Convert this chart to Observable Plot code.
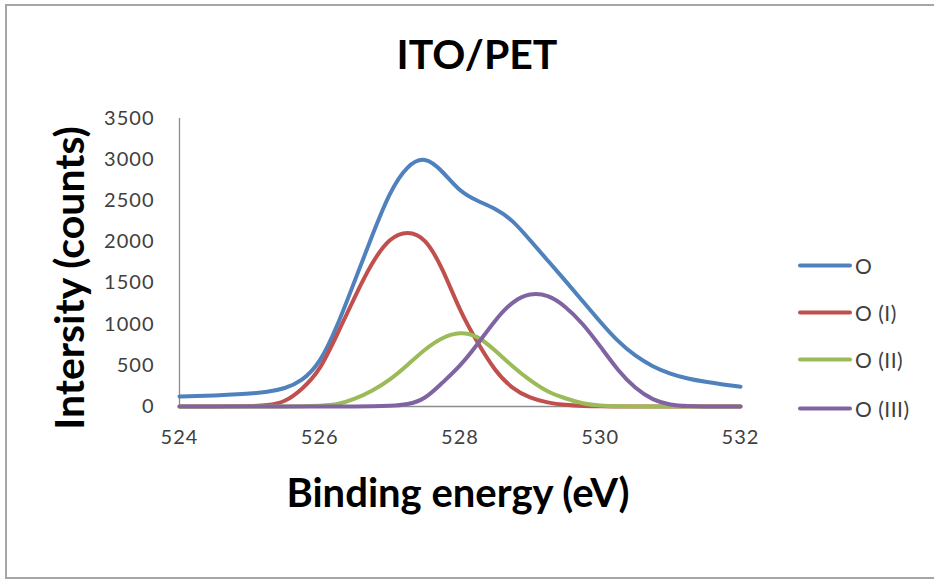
<!DOCTYPE html>
<html>
<head>
<meta charset="utf-8">
<script src="https://cdn.jsdelivr.net/npm/d3@7"></script>
<script src="https://cdn.jsdelivr.net/npm/@observablehq/plot@0.6"></script>
<style>
  html, body { margin: 0; padding: 0; background: #fff; }
  #wrap { position: relative; width: 934px; height: 583px; overflow: hidden; font-family: Lato, "Open Sans", sans-serif; }
  #frame { position: absolute; left: 5px; top: 4px; width: 940px; height: 575px; border: 2px solid #a6a6a6; box-sizing: border-box; }
  #chart { position: absolute; left: 0; top: 0; }
  #chart svg text { letter-spacing: 1px; }
  .title { position: absolute; left: 0; width: 954px; top: 29px; text-align: center; font-weight: bold; font-size: 41px; color: #000; }
  .ylab { position: absolute; left: 68px; top: 278px; transform: translate(-50%, -50%) rotate(-90deg); white-space: nowrap; font-weight: bold; font-size: 41px; color: #000; }
  .xlab { position: absolute; left: 458px; top: 492px; transform: translate(-50%, -50%); white-space: nowrap; font-weight: bold; font-size: 40px; color: #000; }
  #legend { position: absolute; left: 798px; top: 0; }
  .item { position: absolute; left: 0; display: flex; align-items: center; white-space: nowrap; font-size: 21px; letter-spacing: 0.5px; color: #404040; transform: translateY(-50%); }
  .swatch { width: 54px; height: 4px; border-radius: 2px; margin-right: 3px; }
</style>
</head>
<body>
<div id="wrap">
  <div id="frame"></div>
  <div id="chart"></div>
  <div class="title">ITO/PET</div>
  <div class="ylab">Intersity (counts)</div>
  <div class="xlab">Binding energy (eV)</div>
  <div id="legend"></div>
</div>
<script>
// Binding energy grid (eV)
const energy = [524, 524.25, 524.5, 524.75, 525, 525.25, 525.5, 525.75, 526, 526.25, 526.5, 526.75,
  527, 527.25, 527.5, 527.75, 528, 528.25, 528.5, 528.75, 529, 529.25, 529.5, 529.75,
  530, 530.25, 530.5, 530.75, 531, 531.25, 531.5, 531.75, 532];

// Series values (counts)
const seriesO = [122, 128, 135, 145, 158, 180, 225, 330, 560, 990, 1530, 2080,
  2580, 2900, 2995, 2850, 2630, 2500, 2400, 2250, 2020, 1775, 1530, 1280,
  1030, 800, 620, 490, 400, 340, 300, 268, 240];
const seriesOI = [0, 0, 0, 2, 5, 18, 70, 220, 470, 880, 1330, 1740,
  2020, 2110, 2010, 1660, 1180, 780, 450, 230, 110, 50, 20, 7,
  2, 0, 0, 0, 0, 0, 0, 0, 0];
const seriesOII = [0, 0, 0, 0, 0, 0, 0, 3, 10, 30, 95, 195,
  330, 505, 690, 830, 890, 840, 680, 490, 320, 185, 100, 40,
  12, 3, 0, 0, 0, 0, 0, 0, 0];
const seriesOIII = [0, 0, 0, 0, 0, 0, 0, 0, 0, 0, 0, 2,
  8, 30, 110, 290, 500, 760, 1040, 1260, 1360, 1340, 1210, 1000,
  730, 450, 230, 90, 25, 5, 0, 0, 0];

const seriesNames = ["O", "O (I)", "O (II)", "O (III)"];
const seriesColors = ["#4f81bd", "#c0504d", "#9bbb59", "#8064a2"];
const xTicks = [524, 526, 528, 530, 532];
const yTicks = [0, 500, 1000, 1500, 2000, 2500, 3000, 3500];

const allSeries = [seriesO, seriesOI, seriesOII, seriesOIII];
const rows = [];
allSeries.forEach((vals, i) => {
  vals.forEach((v, j) => rows.push({ x: energy[j], y: v, s: seriesNames[i] }));
});

const chart = Plot.plot({
  width: 934,
  height: 583,
  marginLeft: 179,
  marginRight: 194,
  marginTop: 118,
  marginBottom: 177,
  style: { fontFamily: "Lato, 'Open Sans', sans-serif", background: "transparent" },
  x: { domain: [524, 532] },
  y: { domain: [0, 3500] },
  color: { domain: seriesNames, range: seriesColors },
  marks: [
    Plot.ruleY([0], { stroke: "#8c8c8c", strokeWidth: 1.3 }),
    Plot.ruleX([524], { stroke: "#8c8c8c", strokeWidth: 1.3 }),
    Plot.axisY({ ticks: yTicks, tickSize: 0, tickPadding: 25, fontSize: 20, label: null, color: "#404040", tickFormat: d => String(d) }),
    Plot.axisX({ ticks: xTicks, tickSize: 0, tickPadding: 23, fontSize: 20, label: null, color: "#404040", tickFormat: d => String(d) }),
    Plot.line(rows, { x: "x", y: "y", z: "s", stroke: "s", strokeWidth: 4, curve: "natural" })
  ]
});
document.getElementById("chart").appendChild(chart);

const legendYs = [265, 312, 359, 408];
const legend = document.getElementById("legend");
seriesNames.forEach((name, i) => {
  const item = document.createElement("div");
  item.className = "item";
  item.style.top = legendYs[i] + "px";
  const sw = document.createElement("div");
  sw.className = "swatch";
  sw.style.background = seriesColors[i];
  const label = document.createElement("span");
  label.textContent = name;
  item.appendChild(sw);
  item.appendChild(label);
  legend.appendChild(item);
});
</script>
</body>
</html>
